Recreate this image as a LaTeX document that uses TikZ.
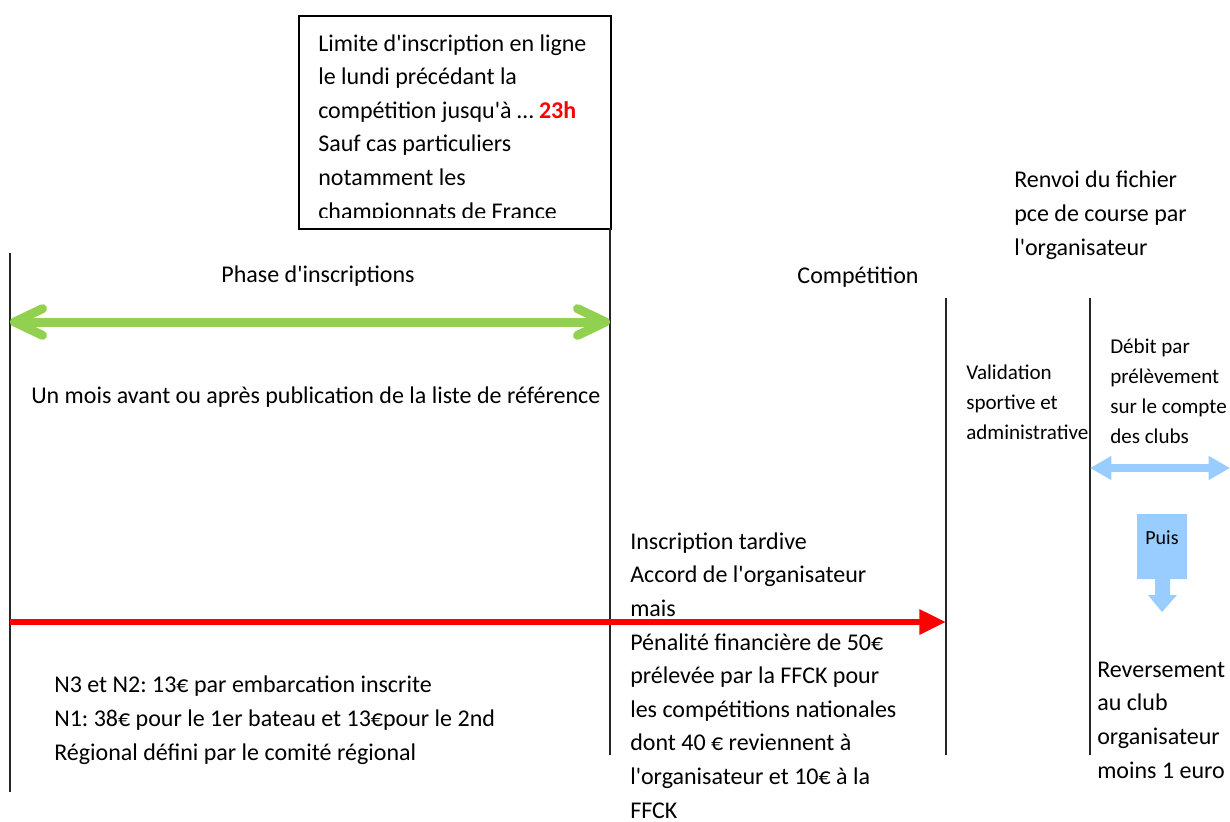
\documentclass[tikz,border=0pt]{standalone}
\usepackage{fontspec}
\setmainfont{Carlito}
\usetikzlibrary{arrows.meta}
\definecolor{grn}{HTML}{92D050}
\definecolor{lblue}{HTML}{99CCFF}
\newcommand{\q}{\textquotesingle}
\frenchspacing
\begin{document}
\begin{tikzpicture}[x=0.75pt,y=-0.75pt,
  every node/.style={inner sep=0pt},
  big/.style={font=\fontsize{18}{25.2}\selectfont},
  small/.style={font=\fontsize{15.8}{22.5}\selectfont},
  txt/.style={anchor=base west, align=left},
  vline/.style={line width=1.2pt, black!85},
  greenarrow/.style={grn, line width=6.75pt, {Straight Barb[round,length=21pt 0,width=20pt 0]}-{Straight Barb[round,length=21pt 0,width=20pt 0]}},
  redarrow/.style={red, line width=4.5pt, -{Triangle[length=20pt 0,width=18pt 0]}},
  bluearrow/.style={lblue, line width=6pt, {Triangle[length=16pt 0,width=17pt 0]}-{Triangle[length=16pt 0,width=17pt 0]}}]
\useasboundingbox (0,0) rectangle (1230,821);

% limit box
\node[draw, line width=1.5pt, anchor=north west, minimum width=234pt, minimum height=159.75pt] (limbox) at (298,15) {};
\begin{scope}
\clip (300,17) rectangle (608,217);
\node[big, txt] (limtxt) at (318,219) {Limite d\q inscription en ligne\\le lundi précédant la\\compétition jusqu\q à … \textcolor{red}{\textbf{23h}}\\Sauf cas particuliers\\notamment les\\championnats de France};
\end{scope}

% vertical lines
\coordinate (l1t) at (10,253); \coordinate (l1b) at (10,792);
\coordinate (l2t) at (610,228); \coordinate (l2b) at (610,755);
\coordinate (l3t) at (946,298); \coordinate (l3b) at (946,755);
\coordinate (l4t) at (1090,298); \coordinate (l4b) at (1090,755);
\draw[vline] (l1t) -- (l1b);
\draw[vline] (l2t) -- (l2b);
\draw[vline] (l3t) -- (l3b);
\draw[vline] (l4t) -- (l4b);

% arrows
\coordinate (ga) at (10,322); \coordinate (gb) at (610,322);
\draw[greenarrow] (ga) -- (gb);
\coordinate (ra) at (10,622); \coordinate (rb) at (946,622);
\draw[redarrow] (ra) -- (rb);
\coordinate (ba) at (1090,468); \coordinate (bb) at (1230,468);
\draw[bluearrow] (ba) -- (bb);

% Puis block arrow
\fill[lblue] (1137,514) -- (1187,514) -- (1187,579) -- (1170,579) -- (1170,595) -- (1177,595) -- (1162,612) -- (1148,595) -- (1155,595) -- (1155,579) -- (1137,579) -- cycle;
\node[font=\fontsize{15}{18}\selectfont] (puis) at (1162,538) {Puis};

% texts
\node[big, anchor=base] (phase) at (318,282) {Phase d\q inscriptions};
\node[big, anchor=base] (comp) at (858,283) {Compétition};
\node[big, txt] (renvoi) at (1014,255) {Renvoi du fichier\\pce de course par\\l\q organisateur};
\node[big, txt] (mois) at (31,403) {Un mois avant ou après publication de la liste de référence};
\node[small, txt] (valid) at (966,439) {Validation\\sportive et\\administrative};
\node[small, txt] (debit) at (1110,443) {Débit par\\prélèvement\\sur le compte\\des clubs};
\node[big, txt] (tard) at (630,818) {Inscription tardive\\Accord de l\q organisateur\\mais\\Pénalité financière de 50€\\prélevée par la FFCK pour\\les compétitions nationales\\dont 40 € reviennent à\\l\q organisateur et 10€ à la\\FFCK};
\node[big, txt] (tarifs) at (54,760) {N3 et N2: 13€ par embarcation inscrite\\N1: 38€ pour le 1er bateau et 13€pour le 2nd\\Régional défini par le comité régional};
\node[big, txt] (revers) at (1097,778) {Reversement\\au club\\organisateur\\moins 1 euro};
\end{tikzpicture}
\end{document}
